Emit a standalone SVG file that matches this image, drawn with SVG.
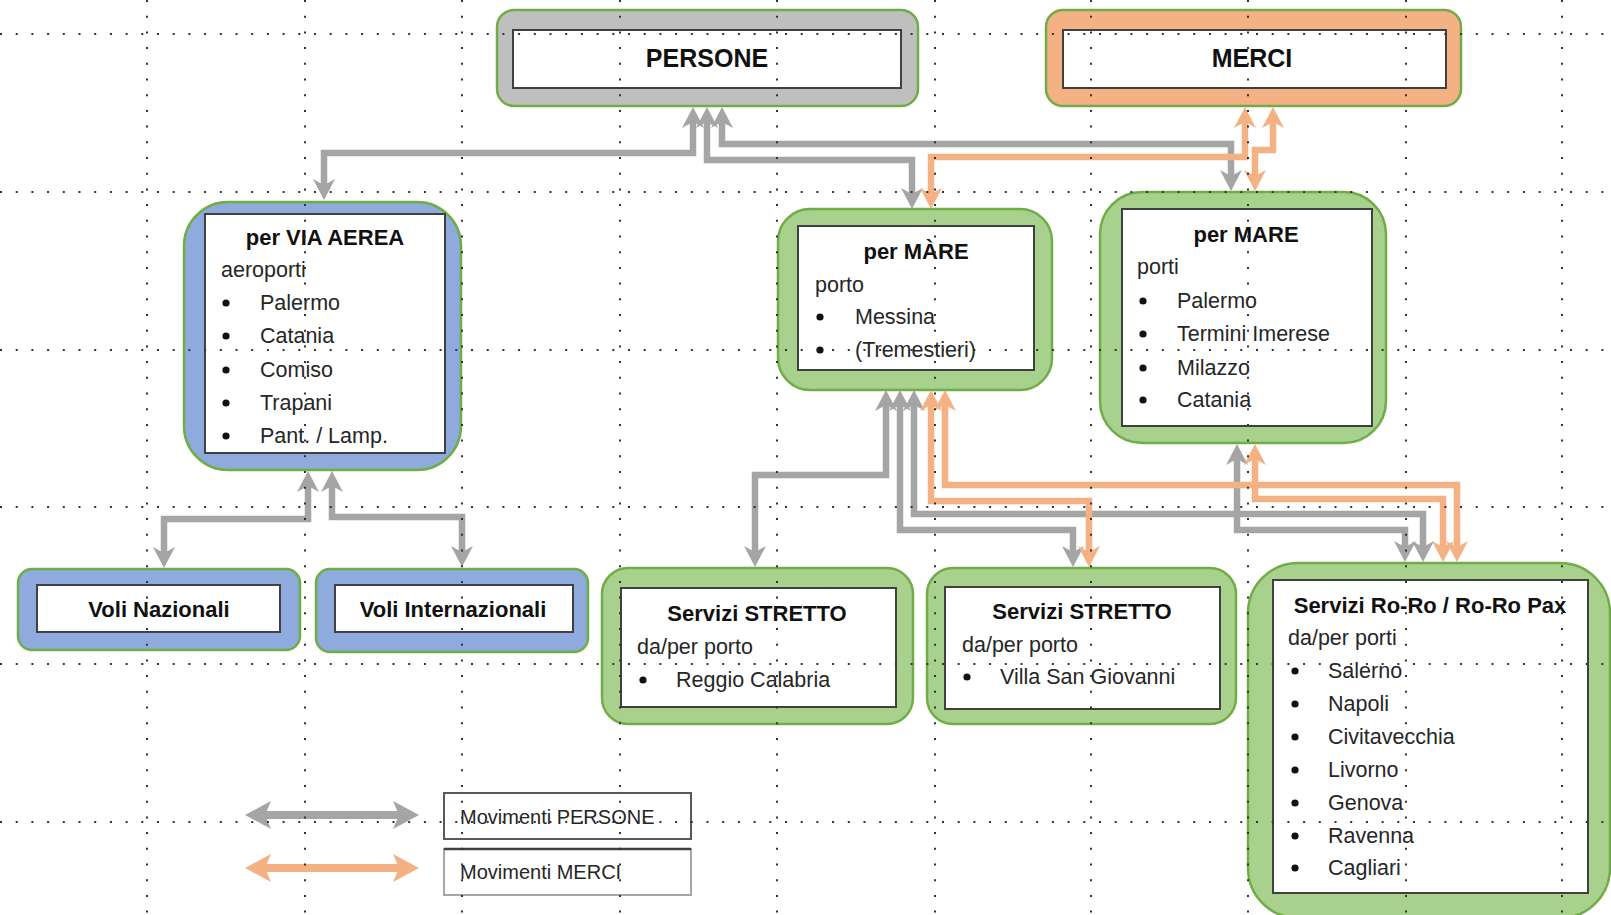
<svg xmlns="http://www.w3.org/2000/svg" width="1611" height="915" viewBox="0 0 1611 915">
  <defs>
    <style>
      .outer { stroke: #70AD47; stroke-width: 2.5; }
      .persone { fill: #BFBFBF; }
      .merci { fill: #F4B183; }
      .aerea { fill: #8FAADC; }
      .mare { fill: #A9D18E; }
      .inner { fill: #FFFFFF; stroke: #404040; stroke-width: 2; }
      .head { font: bold 25px 'Liberation Sans', Arial, sans-serif; text-anchor: middle; fill: #111; }
      .title { font: bold 22px 'Liberation Sans', Arial, sans-serif; text-anchor: middle; fill: #111; }
      .body { font: 21.5px 'Liberation Sans', Arial, sans-serif; fill: #262626; }
      .legend { font: 20px 'Liberation Sans', Arial, sans-serif; fill: #262626; }
      .dot { fill: #111; }
      .gray { fill: none; stroke: #A5A5A5; stroke-width: 6.5; marker-start: url(#ag); marker-end: url(#ag); }
      .orange { fill: none; stroke: #F4B183; stroke-width: 6.5; marker-start: url(#ao); marker-end: url(#ao); }
      .grid { stroke: #333; stroke-width: 2; stroke-dasharray: 2 13.7; fill: none; }
    </style>
    <marker id="ag" viewBox="-12 -12 24 24" refX="0" refY="0" markerWidth="24" markerHeight="24" markerUnits="userSpaceOnUse" orient="auto-start-reverse">
      <path d="M10,0 L-11,-11 L-5,0 L-11,11 Z" fill="#A5A5A5"/>
    </marker>
    <marker id="ao" viewBox="-12 -12 24 24" refX="0" refY="0" markerWidth="24" markerHeight="24" markerUnits="userSpaceOnUse" orient="auto-start-reverse">
      <path d="M10,0 L-11,-11 L-5,0 L-11,11 Z" fill="#F4B183"/>
    </marker>
    <marker id="lg" viewBox="-16 -16 32 32" refX="0" refY="0" markerWidth="32" markerHeight="32" markerUnits="userSpaceOnUse" orient="auto-start-reverse">
      <path d="M14,0 L-12,-14 L-6,0 L-12,14 Z" fill="#A5A5A5"/>
    </marker>
    <marker id="lo" viewBox="-16 -16 32 32" refX="0" refY="0" markerWidth="32" markerHeight="32" markerUnits="userSpaceOnUse" orient="auto-start-reverse">
      <path d="M14,0 L-12,-14 L-6,0 L-12,14 Z" fill="#F4B183"/>
    </marker>
  </defs>

  <rect x="0" y="0" width="1611" height="915" fill="#FFFFFF"/>

  <!-- top level categories -->
  <g id="persone">
    <rect class="outer persone" x="497" y="10" width="421" height="96" rx="17"/>
    <rect class="inner" x="513" y="30" width="388" height="58"/>
    <text class="head" x="707" y="67">PERSONE</text>
  </g>
  <g id="merci">
    <rect class="outer merci" x="1046" y="10" width="415" height="96" rx="17"/>
    <rect class="inner" x="1063" y="30" width="383" height="58"/>
    <text class="head" x="1252" y="67">MERCI</text>
  </g>

  <!-- air transport -->
  <g id="via-aerea">
    <rect class="outer aerea" x="184" y="202" width="277" height="268" rx="44"/>
    <rect class="inner" x="205" y="214" width="240" height="239"/>
    <text class="title" x="325" y="245">per VIA AEREA</text>
    <text class="body" x="221" y="277">aeroporti</text>
    <circle class="dot" cx="226" cy="303" r="3.6"/><text class="body" x="260" y="310">Palermo</text>
    <circle class="dot" cx="226" cy="336" r="3.6"/><text class="body" x="260" y="343">Catania</text>
    <circle class="dot" cx="226" cy="370" r="3.6"/><text class="body" x="260" y="377">Comiso</text>
    <circle class="dot" cx="226" cy="403" r="3.6"/><text class="body" x="260" y="410">Trapani</text>
    <circle class="dot" cx="226" cy="436" r="3.6"/><text class="body" x="260" y="443">Pant. / Lamp.</text>
  </g>

  <!-- sea transport, Messina -->
  <g id="mare-messina">
    <rect class="outer mare" x="778" y="209" width="274" height="181" rx="32"/>
    <rect class="inner" x="798" y="226" width="236" height="144"/>
    <text class="title" x="916" y="259">per MÀRE</text>
    <text class="body" x="815" y="292">porto</text>
    <circle class="dot" cx="820" cy="317" r="3.6"/><text class="body" x="855" y="324">Messina</text>
    <circle class="dot" cx="820" cy="350" r="3.6"/><text class="body" x="855" y="357">(Tremestieri)</text>
  </g>

  <!-- sea transport, other ports -->
  <g id="mare-porti">
    <rect class="outer mare" x="1100" y="192" width="286" height="251" rx="42"/>
    <rect class="inner" x="1122" y="209" width="250" height="217"/>
    <text class="title" x="1246" y="242">per MARE</text>
    <text class="body" x="1137" y="274">porti</text>
    <circle class="dot" cx="1143" cy="301" r="3.6"/><text class="body" x="1177" y="308">Palermo</text>
    <circle class="dot" cx="1143" cy="334" r="3.6"/><text class="body" x="1177" y="341">Termini Imerese</text>
    <circle class="dot" cx="1143" cy="368" r="3.6"/><text class="body" x="1177" y="375">Milazzo</text>
    <circle class="dot" cx="1143" cy="400" r="3.6"/><text class="body" x="1177" y="407">Catania</text>
  </g>

  <!-- flights -->
  <g id="voli-nazionali">
    <rect class="outer aerea" x="18" y="569" width="282" height="81" rx="14"/>
    <rect class="inner" x="37" y="585" width="243" height="47"/>
    <text class="title" x="159" y="617">Voli Nazionali</text>
  </g>
  <g id="voli-internazionali">
    <rect class="outer aerea" x="316" y="569" width="272" height="83" rx="14"/>
    <rect class="inner" x="335" y="585" width="238" height="47"/>
    <text class="title" x="453" y="617">Voli Internazionali</text>
  </g>

  <!-- strait services -->
  <g id="stretto-reggio">
    <rect class="outer mare" x="602" y="568" width="311" height="156" rx="26"/>
    <rect class="inner" x="621" y="588" width="275" height="119"/>
    <text class="title" x="757" y="621">Servizi STRETTO</text>
    <text class="body" x="637" y="654">da/per porto</text>
    <circle class="dot" cx="643" cy="680" r="3.6"/><text class="body" x="676" y="687">Reggio Calabria</text>
  </g>
  <g id="stretto-villa">
    <rect class="outer mare" x="927" y="568" width="309" height="156" rx="26"/>
    <rect class="inner" x="945" y="587" width="275" height="122"/>
    <text class="title" x="1082" y="619">Servizi STRETTO</text>
    <text class="body" x="962" y="652">da/per porto</text>
    <circle class="dot" cx="967" cy="677" r="3.6"/><text class="body" x="1000" y="684">Villa San Giovanni</text>
  </g>

  <!-- Ro-Ro services -->
  <g id="ro-ro">
    <rect class="outer mare" x="1248" y="563" width="362" height="355" rx="50"/>
    <rect class="inner" x="1273" y="580" width="315" height="313"/>
    <text class="title" x="1430" y="613">Servizi Ro-Ro / Ro-Ro Pax</text>
    <text class="body" x="1288" y="645">da/per porti</text>
    <circle class="dot" cx="1295" cy="671" r="3.6"/><text class="body" x="1328" y="678">Salerno</text>
    <circle class="dot" cx="1295" cy="704" r="3.6"/><text class="body" x="1328" y="711">Napoli</text>
    <circle class="dot" cx="1295" cy="737" r="3.6"/><text class="body" x="1328" y="744">Civitavecchia</text>
    <circle class="dot" cx="1295" cy="770" r="3.6"/><text class="body" x="1328" y="777">Livorno</text>
    <circle class="dot" cx="1295" cy="803" r="3.6"/><text class="body" x="1328" y="810">Genova</text>
    <circle class="dot" cx="1295" cy="836" r="3.6"/><text class="body" x="1328" y="843">Ravenna</text>
    <circle class="dot" cx="1295" cy="868" r="3.6"/><text class="body" x="1328" y="875">Cagliari</text>
  </g>

  <!-- connectors: double-headed flows -->
  <g id="connectors">
    <!-- passengers -->
    <path class="gray" d="M693,117 V153 H324 V190"/>
    <path class="gray" d="M707,117 V160 H912 V199"/>
    <path class="gray" d="M722,117 V144 H1231 V181"/>
    <path class="gray" d="M308,481 V519 H164 V558"/>
    <path class="gray" d="M332,481 V517 H462 V557"/>
    <path class="gray" d="M886,400 V475 H755 V557"/>
    <path class="gray" d="M900,400 V530 H1073 V557"/>
    <path class="gray" d="M914,400 V514 H1423 V552"/>
    <path class="gray" d="M1237,454 V530 H1405 V552"/>
    <!-- goods -->
    <path class="orange" d="M1245,117 V157 H931 V199"/>
    <path class="orange" d="M1273,117 V150 H1255 V181"/>
    <path class="orange" d="M931,400 V501 H1089 V557"/>
    <path class="orange" d="M945,400 V485 H1457 V552"/>
    <path class="orange" d="M1255,454 V499 H1443 V552"/>
  </g>

  <!-- legend -->
  <g id="legend">
    <line x1="259" y1="815" x2="405" y2="815" stroke="#A5A5A5" stroke-width="8" marker-start="url(#lg)" marker-end="url(#lg)"/>
    <line x1="259" y1="868" x2="405" y2="868" stroke="#F4B183" stroke-width="8" marker-start="url(#lo)" marker-end="url(#lo)"/>
    <rect x="444" y="793" width="247" height="46" fill="#FFFFFF" stroke="#595959" stroke-width="2"/>
    <text class="legend" x="460" y="824">Movimenti PERSONE</text>
    <rect x="444" y="849" width="247" height="46" fill="#FFFFFF" stroke="#A6A6A6" stroke-width="2"/>
    <line x1="444" y1="849" x2="691" y2="849" stroke="#404040" stroke-width="2.5"/>
    <text class="legend" x="460" y="879">Movimenti MERCI</text>
  </g>

  <!-- drawing grid -->
  <g id="grid">
    <path class="grid" d="M0,34 H1611 M0,192 H1611 M0,350 H1611 M0,507 H1611 M0,664 H1611 M0,822 H1611"/>
    <path class="grid" d="M147,0 V915 M305,0 V915 M462,0 V915 M620,0 V915 M777,0 V915 M935,0 V915 M1091,0 V915 M1248,0 V915 M1406,0 V915 M1562,0 V915"/>
  </g>
</svg>
